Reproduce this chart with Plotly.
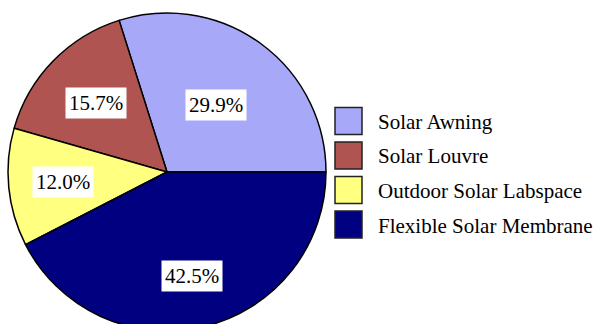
import math
import plotly.graph_objects as go

labels = ["Solar Awning", "Solar Louvre", "Outdoor Solar Labspace", "Flexible Solar Membrane"]
values = [29.9, 15.7, 12.0, 42.5]
label_texts = ["29.9%", "15.7%", "12.0%", "42.5%"]
colors = ["#A8A8F8", "#B05452", "#FFFF80", "#000080"]
label_radius = [0.52, 0.62, 0.66, 0.67]

W, H = 597, 340
cx, cy, r = 167, 172, 159

total = sum(values)
rotation = 90 - 360 * values[0] / total

fig = go.Figure(go.Pie(
    labels=labels, values=values, sort=False, direction="counterclockwise",
    rotation=rotation, textinfo="none", hoverinfo="label+percent",
    marker=dict(colors=colors, line=dict(color="black", width=1.5)),
    domain=dict(x=[(cx - r) / W, (cx + r) / W], y=[(H - cy - r) / H, (H - cy + r) / H]),
    showlegend=False,
))

# slice label annotations at slice mid-angles (clockwise from 12 o'clock)
annotations = []
nxt = rotation
for i, v in enumerate(values):
    span = 360 * v / total
    if i == 0:
        a0, a1 = rotation, rotation + span
    else:
        a0, a1 = nxt - span, nxt
        nxt = a0
    mid = math.radians((a0 + a1) / 2)
    px = cx + r * label_radius[i] * math.sin(mid)
    py = cy - r * label_radius[i] * math.cos(mid)
    annotations.append(dict(
        x=px / W, y=1 - py / H, xref="paper", yref="paper", text=label_texts[i],
        xanchor="center", yanchor="middle",
        showarrow=False, bgcolor="white", borderpad=3,
        font=dict(family="Liberation Serif", size=21, color="black"),
    ))

# custom legend
shapes = []
lx, ly0, dy = 335, 121, 34.5
for i, (lab, col) in enumerate(zip(labels, colors)):
    yc = ly0 + i * dy
    shapes.append(dict(type="rect", xref="paper", yref="paper",
                       x0=lx / W, x1=(lx + 27) / W, y0=1 - (yc + 13.5) / H, y1=1 - (yc - 13.5) / H,
                       fillcolor=col, line=dict(color="#222", width=1.5)))
    annotations.append(dict(x=(lx + 41) / W, y=1 - (yc + 1) / H, xref="paper", yref="paper",
                            text=lab, showarrow=False, xanchor="left", yanchor="middle",
                            font=dict(family="Liberation Serif", size=21, color="black")))

fig.update_layout(width=W, height=H, margin=dict(l=0, r=0, t=0, b=0),
                  paper_bgcolor="white", plot_bgcolor="white",
                  annotations=annotations, shapes=shapes)
fig.write_html("out.html")
